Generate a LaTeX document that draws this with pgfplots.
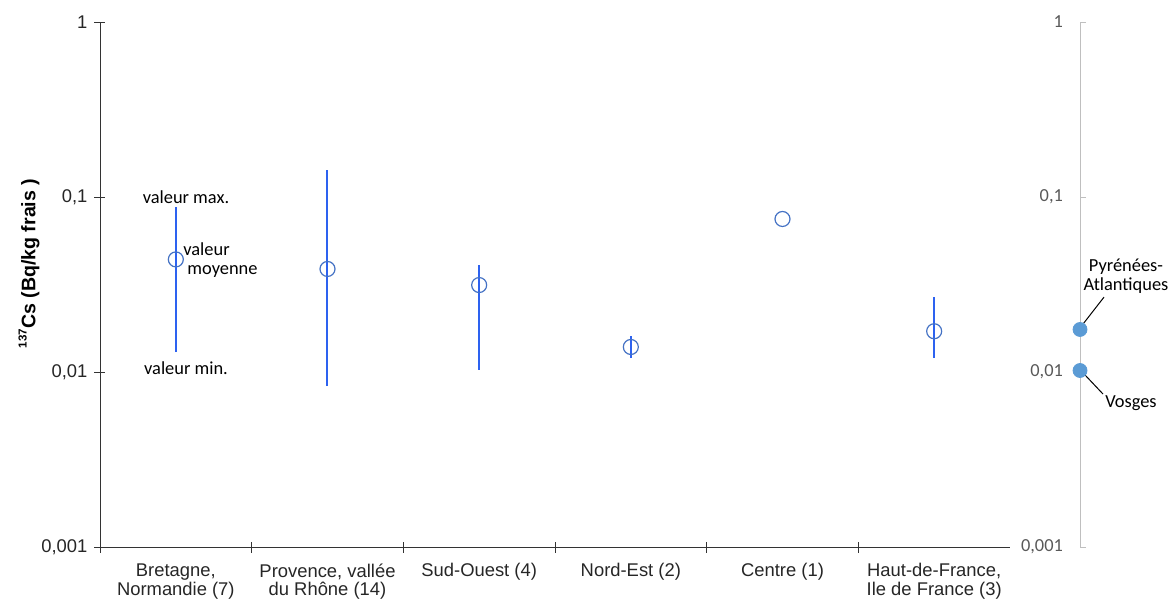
\documentclass[border=0pt]{standalone}
\usepackage{pgfplots}
\pgfplotsset{compat=1.18}
\usepackage{pgfplotstable}
\usepackage{fontspec}
\setmainfont{Liberation Sans}
\newfontfamily\calibri{Carlito}

\definecolor{rangeblue}{RGB}{45,98,240}
\definecolor{meanblue}{RGB}{68,114,196}
\definecolor{dotblue}{RGB}{91,155,213}
\definecolor{axisgrey}{RGB}{191,191,191}
\definecolor{labelgrey}{RGB}{89,89,89}

% mean value per region (Centre: single sample, no range)
\pgfplotstableread{
x    mean
0.5  0.0440
1.5  0.0388
2.5  0.0314
3.5  0.0139
4.5  0.0749
5.5  0.0171
}\means

% min / max per region, one segment each
\pgfplotstableread{
x    y
0.5  0.0130
0.5  0.0877
0.5  nan
1.5  0.0083
1.5  0.1426
1.5  nan
2.5  0.0103
2.5  0.0409
2.5  nan
3.5  0.0120
3.5  0.0161
3.5  nan
5.5  0.0120
5.5  0.0268
}\ranges

% single sites
\pgfplotstableread{
x  y
1  0.0175
1  0.0102
}\sites

\newcommand{\lbl}{\fontsize{9.2}{9.4}\selectfont}

\begin{document}
\begin{tikzpicture}
\begin{axis}[
  at={(0,0)}, anchor=south west,
  scale only axis, width=455pt, height=262.5pt,
  xmin=0, xmax=6,
  ymode=log, ymin=0.001, ymax=1,
  axis x line*=bottom, axis y line*=left,
  axis line style={black!80}, tick style={black!80},
  tick align=center, major tick length=5.5pt,
  yminorticks=false,
  xtick={0,1,2,3,4,5},
  xticklabels={{Bretagne,\\Normandie (7)},{Provence, vallée\\du Rhône (14)},{Sud-Ouest (4)},{Nord-Est (2)},{Centre (1)},{Haut-de-France,\\Ile de France (3)}},
  xticklabel style={xshift=37.92pt, yshift=-2pt, align=center, anchor=north, font=\lbl, text=black!85},
  ytick={0.001,0.01,0.1,1},
  yticklabels={{0,001},{0,01},{0,1},{1}},
  yticklabel style={font=\lbl, text=black!85},
  every axis y label/.style={at={(rel axis cs:0,0.54)}, xshift=-35.5pt, rotate=90, anchor=center},
  ylabel={\bfseries\fontsize{9.8}{10}\selectfont\raisebox{0.45em}{\fontsize{5.8}{6}\selectfont 137}Cs (Bq/kg frais )},
  clip=false,
]
\addplot[rangeblue, line width=1pt, unbounded coords=jump] table[x=x, y=y] {\ranges};
\addplot[only marks, mark=o, mark size=3.75pt, meanblue, mark options={line width=0.6pt}] table[x=x, y=mean] {\means};

\node[font=\calibri\lbl, anchor=center] at (axis cs:0.567,0.1) {valeur max.};
\node[font=\calibri\lbl, anchor=west, inner sep=0pt] at (axis cs:0.547,0.0505) {valeur};
\node[font=\calibri\lbl, anchor=west, inner sep=0pt] at (axis cs:0.574,0.0373) {moyenne};
\node[font=\calibri\lbl, anchor=center] at (axis cs:0.567,0.01054) {valeur min.};
\end{axis}

\begin{axis}[
  at={(0,0)}, anchor=south west,
  scale only axis, width=490pt, height=262.5pt,
  xmin=0, xmax=1,
  ymode=log, ymin=0.001, ymax=1,
  axis x line=none, axis y line*=right,
  axis line style={axisgrey}, tick style={axisgrey},
  tick align=outside, major tick length=3pt,
  yminorticks=false,
  ytick={0.001,0.01,0.1,1},
  yticklabels={{0,001},{0,01},{0,1},{1}},
  yticklabel style={font=\calibri\lbl, text=labelgrey, anchor=east, xshift=-8pt},
  clip=false,
]
\addplot[only marks, mark=*, mark size=3.5pt, dotblue, mark options={draw=dotblue, fill=dotblue}] table[x=x, y=y] {\sites};
\draw[black, line width=0.5pt] (axis cs:1.0031,0.0188) -- (axis cs:1.0245,0.0268);
\draw[black, line width=0.5pt] (axis cs:1.0041,0.00975) -- (axis cs:1.0235,0.00748);
\node[font=\calibri\lbl, align=center, anchor=center] at (axis cs:1.0469,0.0351) {Pyrénées-\\Atlantiques};
\node[font=\calibri\lbl, anchor=center] at (axis cs:1.0520,0.00665) {Vosges};
\end{axis}

\pgfresetboundingbox
\path (-50pt,-26pt) rectangle (534.5pt,273.5pt);
\end{tikzpicture}
\end{document}
